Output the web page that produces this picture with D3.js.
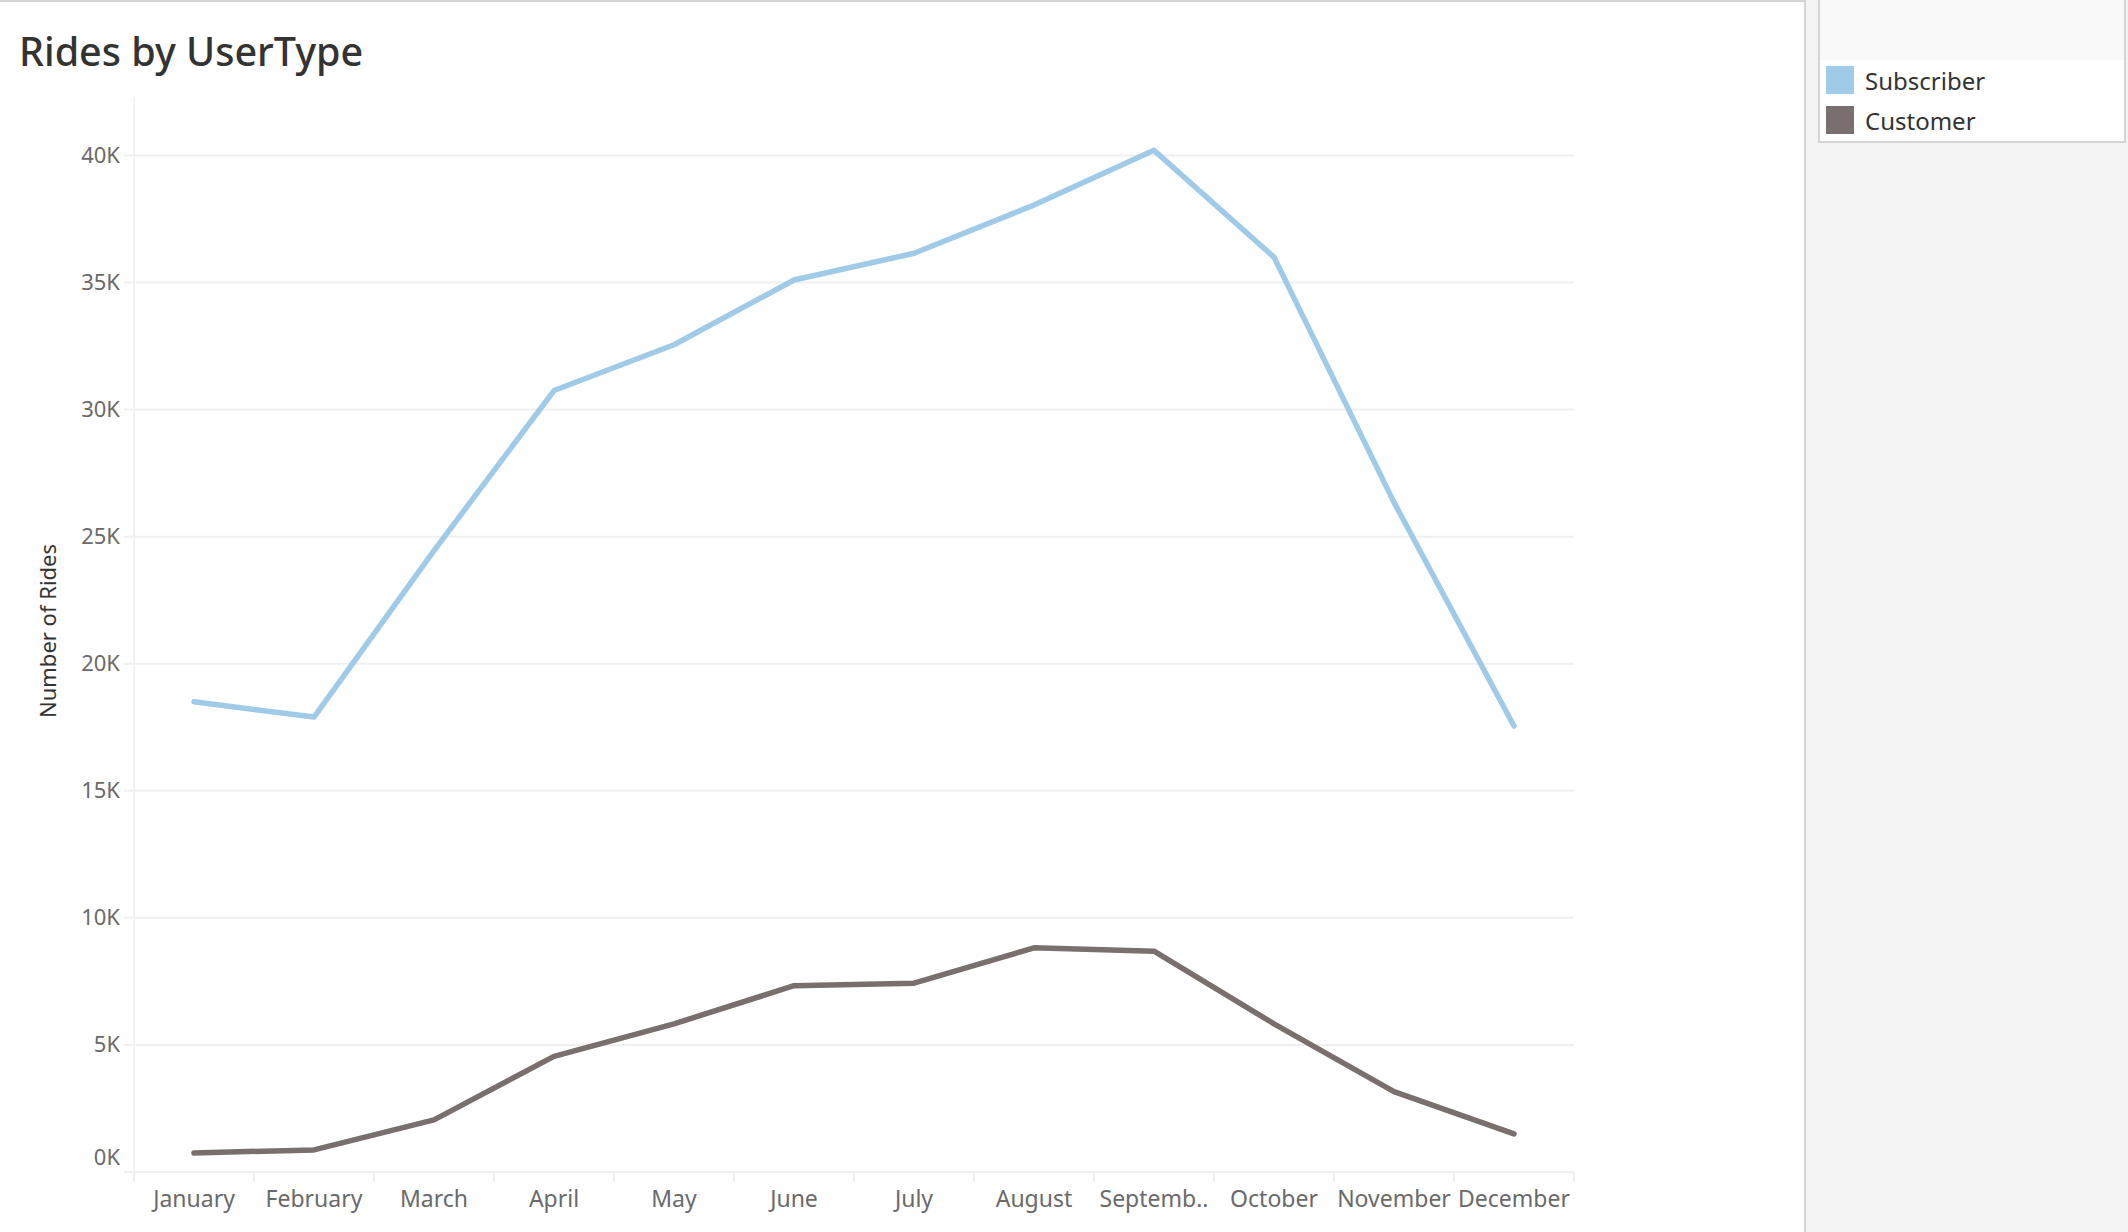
<!DOCTYPE html>
<html>
<head>
<meta charset="utf-8">
<script src="https://cdn.jsdelivr.net/npm/d3@7"></script>
<style>
  html, body { margin: 0; padding: 0; background: #fff; }
  svg { display: block; font-family: "Noto Sans", sans-serif; }
</style>
</head>
<body>
<div class="chart"></div>
<script>
// rides per month
var months = ["January", "February", "March", "April", "May", "June",
  "July", "August", "Septemb..", "October", "November", "December"];

var subscriber = [18500, 17900, 24450, 30750, 32550, 35100,
  36150, 38050, 40200, 36000, 26350, 17550];

var customer = [750, 870, 2050, 4550, 5830, 7330,
  7430, 8820, 8690, 5830, 3160, 1500];

var yTicks = [0, 5000, 10000, 15000, 20000, 25000, 30000, 35000, 40000];

var seriesNames = ["Subscriber", "Customer"];
var seriesColors = ["#a0cbe8", "#79706e"];

var width = 2128,
    height = 1232,
    panelX = 1804;

var svg = d3.select(".chart").append("svg")
    .attr("width", width)
    .attr("height", height);

// right hand legend panel
svg.append("rect")
    .attr("x", panelX).attr("y", 0)
    .attr("width", width - panelX).attr("height", height)
    .attr("fill", "#f3f3f3");
svg.append("line")
    .attr("x1", panelX + 1).attr("x2", panelX + 1)
    .attr("y1", 0).attr("y2", height)
    .attr("stroke", "#d4d4d4").attr("stroke-width", 2);
svg.append("line")
    .attr("x1", 0).attr("x2", panelX)
    .attr("y1", 1).attr("y2", 1)
    .attr("stroke", "#d4d4d4").attr("stroke-width", 2);

var x = d3.scaleBand()
    .domain(months)
    .range([134, 1574])
    .padding(0);

var y = d3.scaleLinear()
    .domain([0, 42300])
    .range([1172, 97]);

var plot = svg.append("g");

// gridlines
plot.selectAll(".grid")
    .data(yTicks)
  .enter().append("line")
    .attr("class", "grid")
    .attr("x1", 124).attr("x2", 1574)
    .attr("y1", function(d) { return y(d); })
    .attr("y2", function(d) { return y(d); })
    .attr("stroke", "#f0f0f0")
    .attr("stroke-width", 2);

// left axis line
plot.append("line")
    .attr("x1", 134).attr("x2", 134)
    .attr("y1", 97).attr("y2", 1182)
    .attr("stroke", "#f2f2f2").attr("stroke-width", 2);

// y axis labels
var yAxis = d3.axisLeft(y)
    .tickValues(yTicks)
    .tickSize(0)
    .tickPadding(0)
    .tickFormat(function(d) { return (d / 1000) + "K"; });

var yg = plot.append("g")
    .attr("transform", "translate(120,0)")
    .call(yAxis);
yg.select(".domain").remove();
yg.selectAll("text")
    .attr("font-family", "Noto Sans, sans-serif")
    .attr("font-size", 22)
    .attr("fill", "#6a6a6a")
    .attr("dy", function(d) { return d === 0 ? "-0.35em" : "0.32em"; });

// x axis: ticks at band edges, labels in the middle
var xg = plot.append("g")
    .attr("transform", "translate(0,1172)")
    .call(d3.axisBottom(x).tickSize(0).tickPadding(0));
xg.select(".domain").remove();
xg.selectAll("text")
    .attr("font-family", "Noto Sans, sans-serif")
    .attr("font-size", 23)
    .attr("fill", "#6a6a6a")
    .attr("dy", 0)
    .attr("y", 35);

plot.selectAll(".xtick")
    .data(months.concat(["end"]))
  .enter().append("line")
    .attr("class", "xtick")
    .attr("x1", function(d, i) { return 134 + i * x.bandwidth(); })
    .attr("x2", function(d, i) { return 134 + i * x.bandwidth(); })
    .attr("y1", 1172).attr("y2", 1182)
    .attr("stroke", "#eeeeee").attr("stroke-width", 2);

// axis title
svg.append("text")
    .attr("transform", "translate(56,631) rotate(-90)")
    .attr("text-anchor", "middle")
    .attr("font-size", 22)
    .attr("fill", "#333")
    .text("Number of Rides");

// the two lines
var line = d3.line()
    .x(function(d, i) { return x(months[i]) + x.bandwidth() / 2; })
    .y(function(d) { return y(d); });

plot.selectAll(".series")
    .data([subscriber, customer])
  .enter().append("path")
    .attr("class", "series")
    .attr("d", line)
    .attr("fill", "none")
    .attr("stroke", function(d, i) { return seriesColors[i]; })
    .attr("stroke-width", 5.5)
    .attr("stroke-linejoin", "round")
    .attr("stroke-linecap", "round");

// title
svg.append("text")
    .attr("x", 19).attr("y", 66)
    .attr("font-size", 39.5)
    .attr("font-weight", 500)
    .attr("fill", "#333")
    .text("Rides by UserType");

// legend box
var legend = svg.append("g");
legend.append("rect")
    .attr("x", 1819).attr("y", -2)
    .attr("width", 306).attr("height", 144)
    .attr("fill", "#fff")
    .attr("stroke", "#d4d4d4").attr("stroke-width", 2);
legend.append("rect")
    .attr("x", 1820).attr("y", 0)
    .attr("width", 304).attr("height", 60)
    .attr("fill", "#f9f9f9");

var items = legend.selectAll(".item")
    .data(seriesNames)
  .enter().append("g")
    .attr("class", "item")
    .attr("transform", function(d, i) { return "translate(1826," + (66 + i * 40) + ")"; });
items.append("rect")
    .attr("width", 28).attr("height", 28)
    .attr("fill", function(d, i) { return seriesColors[i]; });
items.append("text")
    .attr("x", 39).attr("y", 24)
    .attr("font-size", 24)
    .attr("fill", "#333")
    .text(function(d) { return d; });
</script>
</body>
</html>
